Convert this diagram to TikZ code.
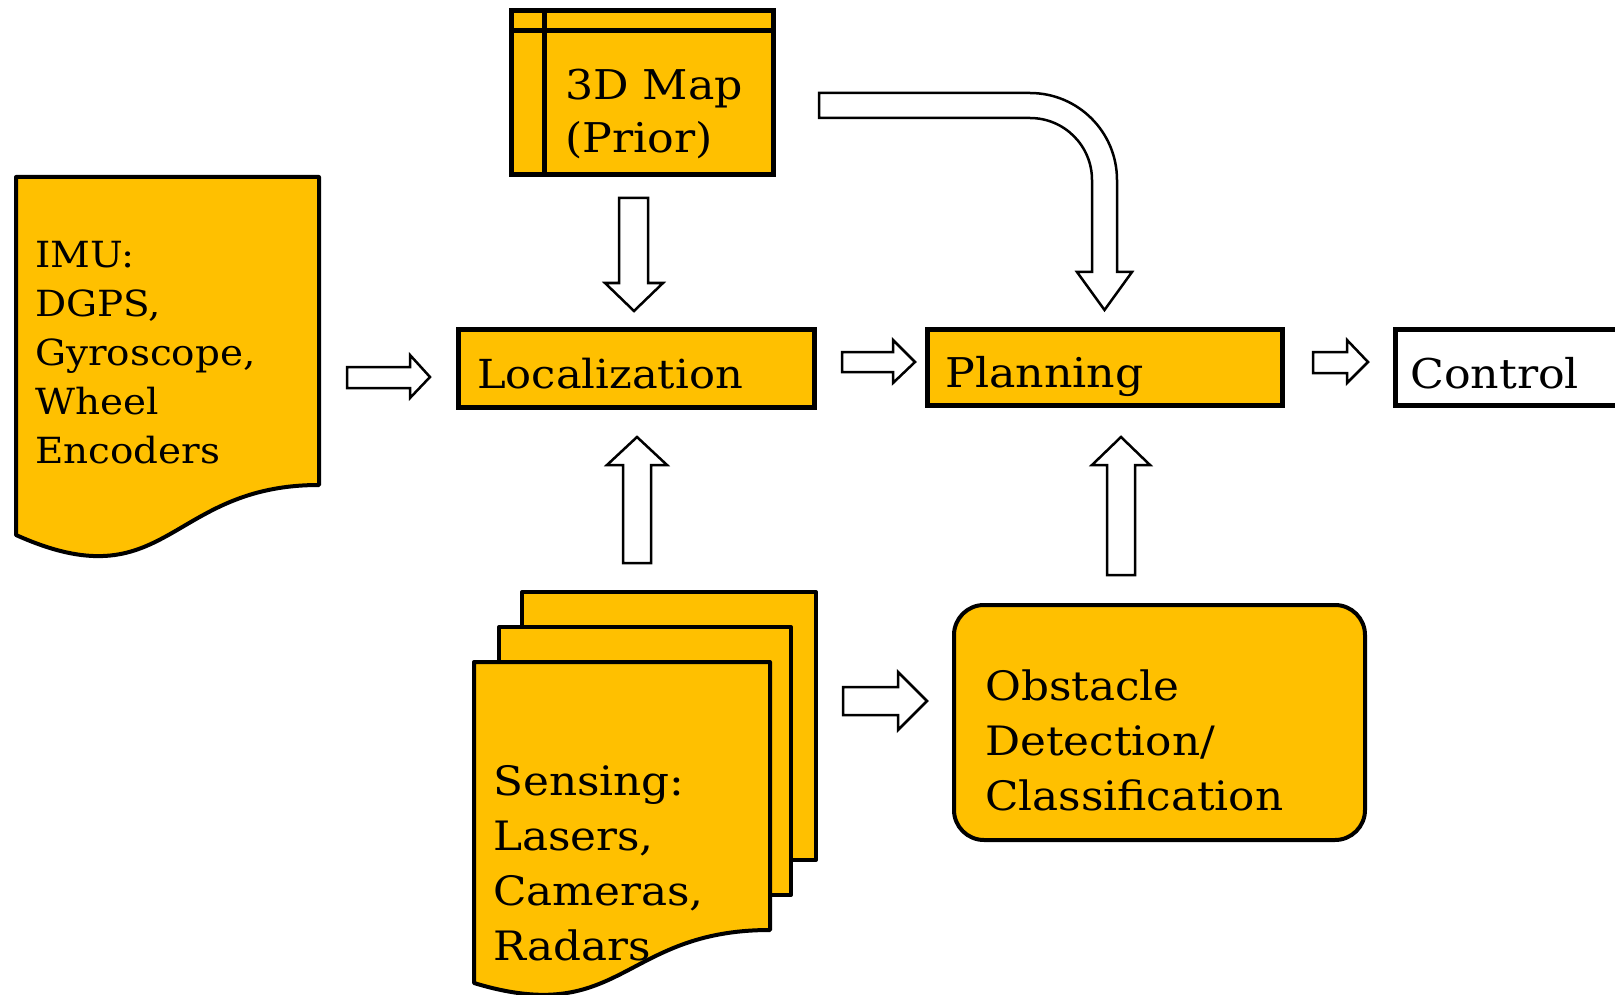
\documentclass[tikz,border=0pt]{standalone}
\usepackage{fontspec}
\setmainfont{DejaVu Serif}[FakeStretch=1.08]
\definecolor{gold}{RGB}{255,192,0}
\tikzset{
  boxthick/.style={draw=black, line width=5pt, fill=gold, line join=miter},
  boxthin/.style={draw=black, line width=4pt, fill=gold, line join=round},
  blockarrow/.style={draw=black, line width=2.5pt, fill=white, line join=miter},
  lbl/.style={anchor=base west, inner sep=0pt, text=black},
}
\newcommand{\txtlines}[3]{{\fontsize{#1}{#2}\selectfont\vtop{\baselineskip=#2\relax #3}}}
\begin{document}
\begin{tikzpicture}[x=1pt,y=-1pt]
\useasboundingbox (0,0) rectangle (1615,995);
\fill[white] (0,0) rectangle (1615,995);

% 3D Map
\draw[boxthick] (511.5,10.5) rectangle (773.5,174.5);
\draw[line width=5pt] (544,10.5) -- (544,174.5);
\draw[line width=5pt] (511.5,31) -- (773.5,31);
\node[lbl] (map) at (565,100) {\txtlines{41pt}{53pt}{\hbox{3D Map}\hbox{(Prior)}}};

% IMU document
\draw[boxthin] (16,177) -- (319,177) -- (319,485)
  .. controls (167.5,485) and (167.5,603) .. (16,535) -- cycle;
\node[lbl] (imu) at (35,268) {\txtlines{36pt}{49pt}{\hbox{IMU:}\hbox{DGPS,}\hbox{Gyroscope,}\hbox{Wheel}\hbox{Encoders}}};

% Sensing stacked documents
\draw[boxthin] (522,592) rectangle (816,860);
\draw[boxthin] (499,627) rectangle (791,895);
\draw[boxthin] (474,662) -- (770,662) -- (770,930)
  .. controls (622,930) and (622,1028) .. (474,983) -- cycle;
\node[lbl] (sens) at (493,795) {\txtlines{40.5pt}{55pt}{\hbox{Sensing:}\hbox{Lasers,}\hbox{Cameras,}\hbox{Radars}}};

% Localization, Planning, Control
\draw[boxthick] (458.5,329.5) rectangle (814.5,407.5);
\node[lbl] (loc) at (477,388) {\fontsize{40pt}{49pt}\selectfont Localization};
\draw[boxthick] (927.5,329.5) rectangle (1282.5,405.5);
\node[lbl] (plan) at (945,387) {\fontsize{41pt}{49pt}\selectfont Planning};
\draw[line width=5pt, fill=white] (1395.5,329.5) rectangle (1640,405.5);
\node[lbl] (ctrl) at (1410,388) {\fontsize{41pt}{49pt}\selectfont Control};

% Obstacle
\draw[boxthin, rounded corners=30pt] (954,605) rectangle (1365,840);
\node[lbl] (obs) at (985,700) {\txtlines{40.5pt}{55pt}{\hbox{Obstacle}\hbox{Detection/}\hbox{Classification}}};

% block arrows
% map -> localization (down)
\draw[blockarrow] (619,198) -- (648,198) -- (648,283) -- (663,283) -- (634,311) -- (605,283) -- (619,283) -- cycle;
% IMU -> localization (right)
\draw[blockarrow] (347,367) -- (410,367) -- (410,355) -- (430,377) -- (410,398) -- (410,388) -- (347,388) -- cycle;
% localization -> planning
\draw[blockarrow] (842,352) -- (893,352) -- (893,340) -- (915,362) -- (893,383) -- (893,372) -- (842,372) -- cycle;
% planning -> control
\draw[blockarrow] (1313,352) -- (1347,352) -- (1347,340) -- (1368,362) -- (1347,383) -- (1347,373) -- (1313,373) -- cycle;
% sensing -> localization (up)
\draw[blockarrow] (623,563) -- (623,465) -- (607,465) -- (637,437) -- (667,465) -- (651,465) -- (651,563) -- cycle;
% obstacle -> planning (up)
\draw[blockarrow] (1107,575) -- (1107,465) -- (1092,465) -- (1121,437) -- (1150,465) -- (1135,465) -- (1135,575) -- cycle;
% sensing -> obstacle (right)
\draw[blockarrow] (843,687) -- (898,687) -- (898,672) -- (927,701) -- (898,730) -- (898,715) -- (843,715) -- cycle;
% map -> planning (curved)
\draw[blockarrow] (819,93) -- (1030,93) arc[start angle=270, end angle=360, radius=87]
  -- (1117,272) -- (1132,272) -- (1104.5,310) -- (1077,272) -- (1092,272) -- (1092,180)
  arc[start angle=0, end angle=-90, radius=62] -- (819,118) -- cycle;
\end{tikzpicture}
\end{document}
